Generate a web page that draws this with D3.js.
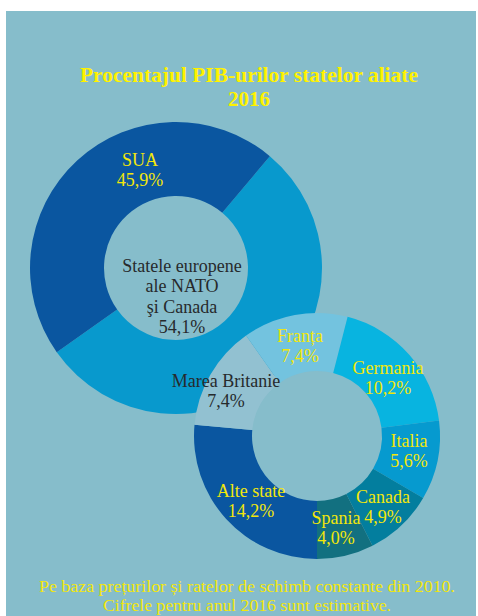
<!DOCTYPE html>
<html>
<head>
<meta charset="utf-8">
<script src="https://cdn.jsdelivr.net/npm/d3@7"></script>
<style>
  html, body { margin: 0; padding: 0; background: #ffffff; }
  svg { display: block; }
</style>
</head>
<body>
<svg id="chart" width="478" height="616"></svg>
<script>
// ---- data ----
const bigCategories = ["Statele europene ale NATO și Canada", "SUA"];
const bigValues = [54.1, 45.9];
const bigLabels = ["54,1%", "45,9%"];

const smallCategories = ["Franța", "Germania", "Italia", "Canada", "Spania", "Alte state", "Marea Britanie"];
const smallValues = [7.4, 10.2, 5.6, 4.9, 4.0, 14.2, 7.4];
const smallLabels = ["7,4%", "10,2%", "5,6%", "4,9%", "4,0%", "14,2%", "7,4%"];

const titleLines = ["Procentajul PIB-urilor statelor aliate", "2016"];
const noteLines = ["Pe baza prețurilor și ratelor de schimb constante din 2010.",
                   "Cifrele pentru anul 2016 sunt estimative."];

// ---- styles / layout ----
const bg = "#86BDCB";
const yellow = "#F3E70A";
const dark = "#262a2c";
const bigColors = ["#0899CD", "#0A56A0"];
const smallColors = ["#73C3DF", "#08B4E0", "#069ACF", "#037E9E", "#127080", "#0A56A0", "#92C1D1"];
const serif = "'Liberation Serif', 'Times New Roman', serif";

const svg = d3.select("#chart");
svg.append("rect").attr("x", 6).attr("y", 11).attr("width", 470).attr("height", 605).attr("fill", bg);

const deg = Math.PI / 180;

// big donut
const big = { cx: 176, cy: 268, R: 146, r: 72 };
const bigPie = d3.pie().sort(null).value(d => d)
  .startAngle(40 * deg).endAngle(400 * deg);
const bigArc = d3.arc().innerRadius(big.r).outerRadius(big.R);
const gBig = svg.append("g").attr("transform", `translate(${big.cx},${big.cy})`);
gBig.selectAll("path").data(bigPie(bigValues)).join("path")
  .attr("d", bigArc).attr("fill", (d, i) => bigColors[i]);

// small donut
const small = { cx: 317, cy: 436, R: 123, r: 65 };
const total = d3.sum(smallValues);
const beforeBottom = d3.sum(smallValues.slice(0, 5));
const sStart = Math.PI - (beforeBottom / total) * 2 * Math.PI;
const smallPie = d3.pie().sort(null).value(d => d)
  .startAngle(sStart).endAngle(sStart + 2 * Math.PI);
const smallArc = d3.arc().innerRadius(small.r).outerRadius(small.R);
const gSmall = svg.append("g").attr("transform", `translate(${small.cx},${small.cy})`);
gSmall.append("circle").attr("r", small.r).attr("fill", bg);
gSmall.selectAll("path").data(smallPie(smallValues)).join("path")
  .attr("d", smallArc).attr("fill", (d, i) => smallColors[i]);

// ---- text ----
function multiline(x, y, lines, opts) {
  const t = svg.append("text")
    .attr("x", x).attr("y", y)
    .attr("text-anchor", "middle")
    .attr("font-family", serif)
    .attr("font-size", opts.size)
    .attr("font-weight", opts.weight || "normal")
    .attr("fill", opts.color);
  lines.forEach((l, i) => {
    const ts = t.append("tspan").attr("x", x).attr("y", y + i * opts.lh).text(l);
    if (opts.widths && opts.widths[i]) {
      ts.attr("textLength", opts.widths[i]).attr("lengthAdjust", "spacingAndGlyphs");
    }
  });
  return t;
}

// title
multiline(249, 82, titleLines, { size: 21, weight: "bold", color: "#FFF200", lh: 24, widths: [338, null] });

// big labels
multiline(140, 166, ["SUA", bigLabels[1]], { size: 18, color: yellow, lh: 20 });
multiline(182, 272, ["Statele europene", "ale NATO", "şi Canada", bigLabels[0]], { size: 18, color: dark, lh: 20.3 });

// small labels (label anchor points)
const smallLabelPos = [
  [300, 342], [388, 374], [409, 447], [383, 503], [336, 524], [251, 497], [226, 387]
];
smallCategories.forEach((c, i) => {
  const col = i === 6 ? dark : yellow;
  multiline(smallLabelPos[i][0], smallLabelPos[i][1], [c, smallLabels[i]], { size: 18, color: col, lh: 20 });
});

// footnote
multiline(247, 592, noteLines, { size: 17, color: yellow, lh: 19, widths: [416, 288] });
</script>
</body>
</html>
